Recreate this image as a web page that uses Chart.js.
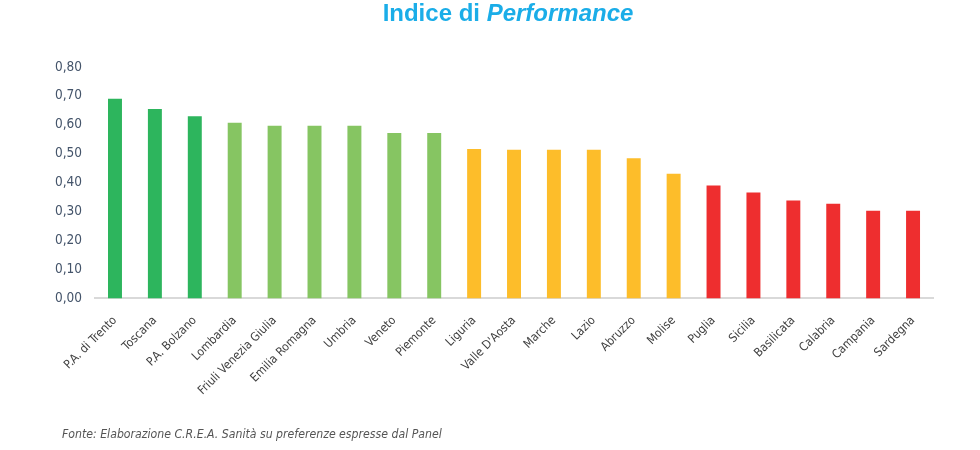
<!DOCTYPE html>
<html>
<head>
<meta charset="utf-8">
<script src="https://cdn.jsdelivr.net/npm/chart.js@4"></script>
<style>
  body { margin: 0; background: #fff; }
  #wrap { position: relative; width: 980px; height: 450px; }
  #titolo {
    position: absolute; top: -1px; left: 0; width: 1016px; text-align: center;
    font-family: "Liberation Sans", Arial, sans-serif; font-weight: bold;
    font-size: 24px; color: #1AADE8;
  }
  #fonte {
    position: absolute; top: 427px; left: 62px;
    font-family: "DejaVu Sans Condensed", "Liberation Sans", Arial, sans-serif;
    font-style: italic; font-size: 12.2px; color: #555;
  }
</style>
</head>
<body>
<div id="wrap">
  <div id="titolo">Indice di <i>Performance</i></div>
  <canvas id="grafico" width="980" height="450"></canvas>
  <div id="fonte">Fonte: Elaborazione C.R.E.A. Sanità su preferenze espresse dal Panel</div>
</div>
<script>
// regioni e indice di performance
const regioni = ['P.A. di Trento', 'Toscana', 'P.A. Bolzano', 'Lombardia', 'Friuli Venezia Giulia',
  'Emilia Romagna', 'Umbria', 'Veneto', 'Piemonte', 'Liguria', "Valle D'Aosta", 'Marche',
  'Lazio', 'Abruzzo', 'Molise', 'Puglia', 'Sicilia', 'Basilicata', 'Calabria', 'Campania', 'Sardegna'];
const indice = [0.69, 0.655, 0.63, 0.607, 0.597, 0.597, 0.597, 0.572, 0.572, 0.517, 0.514, 0.514,
  0.514, 0.485, 0.431, 0.39, 0.366, 0.339, 0.327, 0.303, 0.303];
// fascia di ciascuna regione (0 = alta ... 3 = bassa)
const fascia = [0, 0, 0, 1, 1, 1, 1, 1, 1, 2, 2, 2, 2, 2, 2, 3, 3, 3, 3, 3, 3];
const coloriFascia = ['#2DB55D', '#86C562', '#FDBD2A', '#EE2E2F'];
const tickY = [0, 0.1, 0.2, 0.3, 0.4, 0.5, 0.6, 0.7, 0.8];

const fontEtichette = "'DejaVu Sans Condensed', 'Liberation Sans', Arial, sans-serif";

const ctx = document.getElementById('grafico').getContext('2d');
new Chart(ctx, {
  type: 'bar',
  data: {
    labels: regioni,
    datasets: [{
      data: indice,
      backgroundColor: fascia.map(f => coloriFascia[f]),
      borderWidth: 0,
      barPercentage: 0.7,
      categoryPercentage: 0.5
    }]
  },
  options: {
    responsive: false,
    animation: false,
    layout: { padding: { top: 67, left: 42, right: 47, bottom: 37 } },
    plugins: { legend: { display: false }, tooltip: { enabled: false } },
    scales: {
      y: {
        min: 0, max: 0.8,
        afterBuildTicks: axis => { axis.ticks = tickY.map(v => ({ value: v })); },
        grid: { display: false, drawTicks: false },
        border: { display: false },
        ticks: {
          padding: 13,
          color: '#44546A',
          font: { family: fontEtichette, size: 13.5 },
          callback: v => v.toFixed(2).replace('.', ',')
        }
      },
      x: {
        grid: { display: false, drawTicks: false },
        border: { display: true, color: '#D9D9D9', width: 2 },
        ticks: {
          padding: 15,
          minRotation: 45, maxRotation: 45,
          color: '#404040',
          font: { family: fontEtichette, size: 12 }
        }
      }
    }
  }
});
</script>
</body>
</html>
